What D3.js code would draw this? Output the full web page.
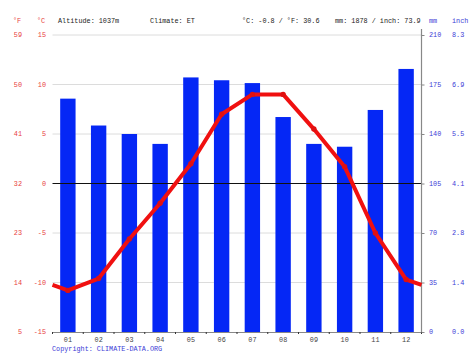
<!DOCTYPE html>
<html><head><meta charset="utf-8">
<script src="https://cdn.jsdelivr.net/npm/d3@7"></script>
<style>
html,body{margin:0;padding:0;background:#fff;}
svg{display:block;}
text{font-family:"Liberation Mono","DejaVu Sans Mono",monospace;font-size:6.8px;}
</style></head><body>
<svg id="c" width="474" height="355"></svg>
<script>
const months = ["01","02","03","04","05","06","07","08","09","10","11","12"];
const precipitation = [165,146,140,133,180,178,176,152,133,131,157,186];
const temperature = [-10.8,-9.6,-5.6,-2.0,2.0,7.0,9.0,9.0,5.5,1.7,-5.0,-9.7];
const tempCTicks = [-15,-10,-5,0,5,10,15];
const tempFTicks = [5,14,23,32,41,50,59];
const mmTicks = [0,35,70,105,140,175,210];
const inchTicks = ["0.0","1.4","2.8","4.1","5.5","6.9","8.3"];
const headerTexts = ["Altitude: 1037m","Climate: ET","°C: -0.8 / °F: 30.6","mm: 1878 / inch: 73.9"];

const svg = d3.select("#c");
const L = 52.5, R = 421.5, T = 35, B = 332;
const red = "#e8403c", blue = "#3b3bd6", gray = "#888";
const FONT = '"Liberation Mono","DejaVu Sans Mono",monospace';

const x = d3.scaleBand().domain(months).range([L, R]).paddingInner(0.5).paddingOuter(0.25);
const yT = d3.scaleLinear().domain([-15, 15]).range([B, T]);
const yP = d3.scaleLinear().domain([0, 210]).range([B, T]);

// grid
svg.append("g").selectAll("line").data(tempCTicks.filter(d => d !== -15 && d !== 0)).join("line")
  .attr("x1", L).attr("x2", R).attr("y1", d => yT(d)).attr("y2", d => yT(d))
  .attr("stroke", "#dcdcdc").attr("stroke-width", 1);

// bars
svg.append("g").selectAll("rect").data(precipitation).join("rect")
  .attr("x", (d, i) => x(months[i])).attr("width", x.bandwidth())
  .attr("y", d => yP(d)).attr("height", d => B - yP(d))
  .attr("fill", "#0527f5");

// zero line
svg.append("line").attr("x1", L).attr("x2", R).attr("y1", yT(0)).attr("y2", yT(0))
  .attr("stroke", "#111").attr("stroke-width", 1);

// bottom axis
const xAxis = svg.append("g").attr("transform", `translate(0,${B})`)
  .call(d3.axisBottom(x).tickSize(0).tickPadding(5));
xAxis.select(".domain").attr("stroke", gray);
xAxis.selectAll("text").attr("fill", "#444").style("font-size", "6.8px").style("font-family", FONT);
const step = x.step();
svg.append("g").selectAll("line").data(d3.range(13)).join("line")
  .attr("x1", i => L + i * step).attr("x2", i => L + i * step)
  .attr("y1", B).attr("y2", B + 2).attr("stroke", "#333");

// right axis
const rAxis = svg.append("g").attr("transform", `translate(${R},0)`)
  .call(d3.axisRight(yP).tickValues(mmTicks).tickSize(3).tickFormat(""));
rAxis.select(".domain").remove();
rAxis.selectAll("line").attr("stroke", gray);
svg.append("line").attr("x1", R).attr("x2", R).attr("y1", 29).attr("y2", B)
  .attr("stroke", gray).attr("stroke-width", 1.2);

// tick labels
svg.append("g").selectAll("text").data(tempFTicks).join("text")
  .attr("x", 22).attr("y", (d, i) => yT(tempCTicks[i]) + 2.4).attr("text-anchor", "end")
  .attr("fill", red).text(d => d);
svg.append("g").selectAll("text").data(tempCTicks).join("text")
  .attr("x", 46).attr("y", d => yT(d) + 2.4).attr("text-anchor", "end")
  .attr("fill", red).text(d => d);
svg.append("g").selectAll("text").data(mmTicks).join("text")
  .attr("x", 429).attr("y", d => yP(d) + 2.4)
  .attr("fill", blue).text(d => d);
svg.append("g").selectAll("text").data(inchTicks).join("text")
  .attr("x", 452).attr("y", (d, i) => yP(mmTicks[i]) + 2.4)
  .attr("fill", blue).text(d => d);

// unit headers
svg.append("text").attr("x", 13).attr("y", 22.5).attr("fill", red).text("°F");
svg.append("text").attr("x", 37).attr("y", 22.5).attr("fill", red).text("°C");
svg.append("text").attr("x", 429).attr("y", 22.5).attr("fill", blue).text("mm");
svg.append("text").attr("x", 452).attr("y", 22.5).attr("fill", blue).text("inch");
const hx = [58, 150, 242, 335];
svg.append("g").selectAll("text").data(headerTexts).join("text")
  .attr("x", (d, i) => hx[i]).attr("y", 22.5).attr("fill", "#222").text(d => d);

// temperature line (wrapped to edges)
const edge = (temperature[0] + temperature[11]) / 2;
const pts = [[L, yT(edge)]]
  .concat(temperature.map((t, i) => [x(months[i]) + x.bandwidth() / 2, yT(t)]))
  .concat([[R, yT(edge)]]);
svg.append("path").attr("d", d3.line()(pts)).attr("fill", "none")
  .attr("stroke", "#f01010").attr("stroke-width", 4).attr("stroke-linejoin", "round");
svg.append("g").selectAll("circle").data(temperature).join("circle")
  .attr("cx", (d, i) => x(months[i]) + x.bandwidth() / 2).attr("cy", d => yT(d))
  .attr("r", 2.7).attr("fill", "#e01010");

// copyright
svg.append("text").attr("x", 52).attr("y", 351).attr("fill", blue).text("Copyright: CLIMATE-DATA.ORG");
</script>
</body></html>
